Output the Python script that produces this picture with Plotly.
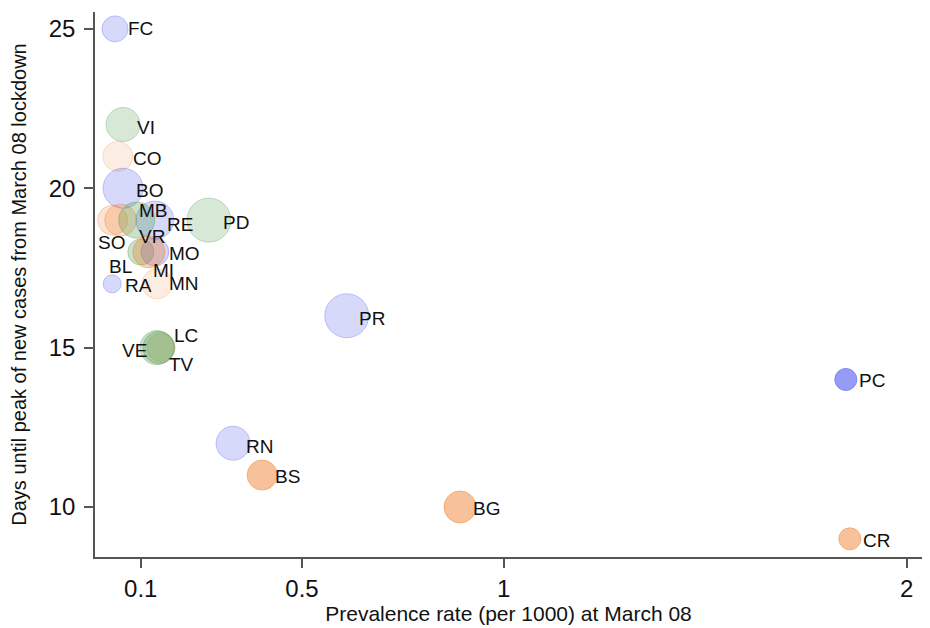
import plotly.graph_objects as go

# ---------------- data ----------------
provinces = ["FC", "VI", "CO", "BO", "SO", "MB", "RE", "VR", "PD", "BL", "MO", "MI",
             "RA", "MN", "PR", "LC", "VE", "TV", "RN", "BS", "BG", "PC", "CR"]
region = ["ER", "VEN", "LOM", "ER", "LOM", "LOM", "ER", "VEN", "VEN", "VEN", "ER", "LOM",
          "ER", "LOM", "ER", "LOM", "VEN", "VEN", "ER", "LOM", "LOM", "ER", "LOM"]
prevalence = [0.036, 0.056, 0.043, 0.056, 0.030, 0.050, 0.135, 0.090, 0.269, 0.100, 0.135, 0.120,
              0.029, 0.140, 0.611, 0.150, 0.140, 0.145, 0.329, 0.401, 0.892, 1.849, 1.859]
days_to_peak = [25, 22, 21, 20, 19, 19, 19, 19, 19, 18, 18, 18,
                17, 17, 16, 15, 15, 15, 12, 11, 10, 14, 9]
bubble_weight = [13, 17, 15, 20, 15, 16, 19, 18, 22, 13, 14, 16,
                 9, 15, 22, 14, 17, 16, 17, 15, 16, 11, 11]

x_tick_vals = [0.1, 0.5, 1, 2]
x_tick_text = ["0.1", "0.5", "1", "2"]
y_tick_vals = [10, 15, 20, 25]
y_tick_text = ["10", "15", "20", "25"]

x_title = "Prevalence rate (per 1000) at March 08"
y_title = "Days until peak of new cases from March 08 lockdown"

# ---------------- style ----------------
base_rgb = {"ER": (70, 80, 240), "LOM": (240, 130, 50), "VEN": (70, 150, 70)}
alpha = {"FC": 0.3, "VI": 0.3, "CO": 0.2, "BO": 0.3, "SO": 0.3, "MB": 0.35, "VR": 0.4,
         "RE": 0.3, "PD": 0.3, "MO": 0.35, "MI": 0.5, "BL": 0.4, "RA": 0.3, "MN": 0.2,
         "PR": 0.3, "VE": 0.4, "TV": 0.4, "LC": 0.25, "RN": 0.3, "BS": 0.7, "BG": 0.7,
         "PC": 0.8, "CR": 0.7}
# label placement: (anchor, dx px, dy px) relative to the marker centre
label_pos = {"FC": ("left", 12, 0), "VI": ("left", 13, 3), "CO": ("left", 14, 2),
             "BO": ("left", 12, 2), "SO": ("center", -1, 22), "MB": ("left", 17, -10),
             "VR": ("left", 1, 16), "RE": ("left", 11, 4), "PD": ("left", 13, 2),
             "MO": ("left", 13, 2), "MI": ("left", 3, 19), "BL": ("right", -8, 15),
             "RA": ("left", 12, 2), "MN": ("left", 11, 0), "PR": ("left", 11, 3),
             "VE": ("right", -9, 3), "TV": ("left", 9, 17), "LC": ("left", 12, -12),
             "RN": ("left", 12, 3), "BS": ("left", 12, 1), "BG": ("left", 12, 2),
             "PC": ("left", 12, 1), "CR": ("left", 12, 2)}

def rgba(rgb, a):
    return "rgba(%d,%d,%d,%.2f)" % (rgb[0], rgb[1], rgb[2], a)

fill = [rgba(base_rgb[r], alpha[p]) for p, r in zip(provinces, region)]
edge = [rgba(base_rgb[r], min(1.0, alpha[p] + 0.15)) for p, r in zip(provinces, region)]

FONT = "Liberation Sans, Arial, Helvetica, sans-serif"
TXT = "#111111"
AX = "#555555"

fig = go.Figure()
fig.add_trace(go.Scatter(
    x=prevalence, y=days_to_peak, mode="markers",
    text=provinces, hoverinfo="text",
    marker=dict(size=bubble_weight, sizemode="diameter", sizeref=0.5,
                color=fill, line=dict(color=edge, width=1)),
    showlegend=False,
))

annotations = []
for p, xv, yv in zip(provinces, prevalence, days_to_peak):
    anc, dx, dy = label_pos[p]
    annotations.append(dict(
        x=xv, y=yv, xref="x", yref="y", text=p, showarrow=False,
        xanchor=anc, yanchor="middle", xshift=dx, yshift=-dy,
        font=dict(family=FONT, size=19, color=TXT), borderpad=0,
    ))

fig.update_layout(
    width=930, height=628,
    margin=dict(l=87, r=16, t=4, b=79),
    paper_bgcolor="white", plot_bgcolor="white",
    font=dict(family=FONT, color=TXT),
    annotations=annotations,
    xaxis=dict(
        range=[-0.0136, 2.038], tickvals=x_tick_vals, ticktext=x_tick_text,
        showgrid=False, zeroline=False, showline=True, linecolor=AX, linewidth=1.5,
        ticks="outside", ticklen=9, tickwidth=1.5, tickcolor=AX,
        tickfont=dict(family=FONT, size=24, color=TXT),
        title=dict(text=x_title, font=dict(family=FONT, size=21, color=TXT), standoff=4),
        automargin=False,
    ),
    yaxis=dict(
        range=[8.43, 25.53], tickvals=y_tick_vals, ticktext=y_tick_text,
        showgrid=False, zeroline=False, showline=True, linecolor=AX, linewidth=1.5,
        ticks="outside", ticklen=9, tickwidth=1.5, tickcolor=AX,
        ticklabelstandoff=4,
        tickfont=dict(family=FONT, size=24, color=TXT),
        title=dict(text=y_title, font=dict(family=FONT, size=20, color=TXT), standoff=20),
        automargin=False,
    ),
)

fig.write_html("out.html")
